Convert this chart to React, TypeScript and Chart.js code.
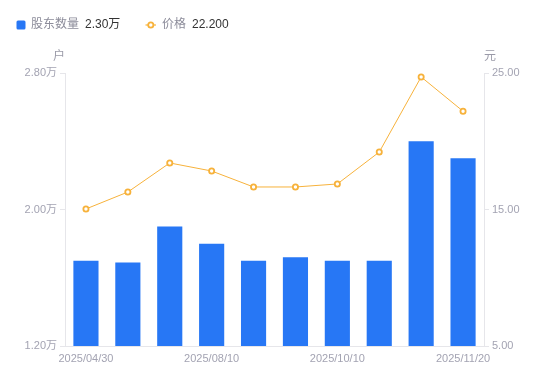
import React, { useEffect, useRef } from "react";
import { Chart, registerables } from "chart.js";

Chart.register(...registerables);

const categories = [
  "2025/04/30", "2025/06/30", "2025/07/31", "2025/08/10", "2025/08/31",
  "2025/09/30", "2025/10/10", "2025/10/31", "2025/11/10", "2025/11/20",
];
const shownLabels = ["2025/04/30", "2025/08/10", "2025/10/10", "2025/11/20"];
const holders = [1.70, 1.69, 1.90, 1.80, 1.70, 1.72, 1.70, 1.70, 2.40, 2.30];
const prices = [15.04, 16.28, 18.41, 17.82, 16.65, 16.65, 16.87, 19.21, 24.71, 22.2];
const legendValues = ["2.30万", "22.200"];
const seriesNames = ["股东数量", "价格"];
const axisUnits = ["户", "元"];

const BLUE = "#2777F5";
const ORANGE = "#F7B23B";
const TICK = "#A3A3B2";
const FONT = "'Liberation Sans', 'Noto Sans CJK SC', sans-serif";

const overlay = {
  id: "overlay",
  afterDraw(chart: any) {
    const ctx = chart.ctx;
    ctx.save();
    ctx.textBaseline = "middle";
    ctx.font = `12px ${FONT}`;
    const cy = 25;
    // legend item 1
    ctx.fillStyle = BLUE;
    ctx.beginPath();
    (ctx as any).roundRect ? (ctx as any).roundRect(16.5, cy - 4.5, 9, 9, 1.5) : ctx.rect(16.5, cy - 4.5, 9, 9);
    ctx.fill();
    ctx.fillStyle = "#8C8C9A";
    ctx.textAlign = "left";
    ctx.fillText(seriesNames[0], 31, cy);
    ctx.fillStyle = "#333333";
    ctx.fillText(legendValues[0], 85, cy);
    // legend item 2
    ctx.strokeStyle = ORANGE;
    ctx.lineWidth = 1.2;
    ctx.beginPath();
    ctx.moveTo(145.5, cy);
    ctx.lineTo(156, cy);
    ctx.stroke();
    ctx.fillStyle = "#fff";
    ctx.lineWidth = 1.8;
    ctx.beginPath();
    ctx.arc(150.8, cy, 2.6, 0, Math.PI * 2);
    ctx.fill();
    ctx.stroke();
    ctx.fillStyle = "#8C8C9A";
    ctx.fillText(seriesNames[1], 162, cy);
    ctx.fillStyle = "#333333";
    ctx.fillText(legendValues[1], 192, cy);
    // axis units
    ctx.fillStyle = "#9A9AA8";
    ctx.textAlign = "center";
    ctx.fillText(axisUnits[0], 59, 57);
    ctx.fillText(axisUnits[1], 490, 57);
    ctx.restore();
  },
};

export default function App() {
  const ref = useRef<HTMLCanvasElement>(null);
  useEffect(() => {
    document.body.style.margin = "0";
    const chart = new Chart(ref.current!, {
      data: {
        labels: categories,
        datasets: [
          {
            type: "line",
            label: seriesNames[1],
            data: prices,
            yAxisID: "y1",
            borderColor: ORANGE,
            borderWidth: 1,
            pointRadius: 2.6,
            pointBorderWidth: 1.8,
            pointBackgroundColor: "#fff",
            pointBorderColor: ORANGE,
            tension: 0,
            order: 0,
          } as any,
          {
            type: "bar",
            label: seriesNames[0],
            data: holders,
            yAxisID: "y",
            backgroundColor: BLUE,
            categoryPercentage: 0.6,
            barPercentage: 1,
            order: 1,
          } as any,
        ],
      },
      options: {
        animation: false,
        responsive: false,
        layout: { padding: { top: 73, left: 0, right: 0, bottom: 0 } },
        plugins: { legend: { display: false }, tooltip: { enabled: false } },
        scales: {
          x: {
            grid: { display: false, drawTicks: false },
            border: { color: "#E6E6EA" },
            afterFit: (s: any) => { s.height = 35; },
            ticks: {
              autoSkip: false,
              maxRotation: 0,
              color: TICK,
              padding: 6,
              font: { size: 11, family: FONT },
              callback: function (this: any, _v: any, i: number) {
                const l = categories[i];
                return shownLabels.includes(l) ? l : "";
              },
            },
          },
          y: {
            position: "left",
            min: 1.2,
            max: 2.8,
            afterFit: (s: any) => { s.width = 65; },
            grid: { drawOnChartArea: false, tickLength: 5, color: "#E6E6EA" },
            border: { color: "#E6E6EA" },
            ticks: {
              stepSize: 0.8,
              color: TICK,
              padding: 3,
              font: { size: 11, family: FONT },
              callback: (v: any) => Number(v).toFixed(2) + "万",
            },
          },
          y1: {
            position: "right",
            min: 5,
            max: 25,
            afterFit: (s: any) => { s.width = 66; },
            grid: { drawOnChartArea: false, tickLength: 5, color: "#E6E6EA" },
            border: { color: "#E6E6EA" },
            ticks: {
              stepSize: 10,
              color: TICK,
              padding: 3,
              font: { size: 11, family: FONT },
              callback: (v: any) => Number(v).toFixed(2),
            },
          },
        },
      },
      plugins: [overlay],
    });
    return () => chart.destroy();
  }, []);
  return (
    <div style={{ width: 550, height: 381 }}>
      <canvas ref={ref} width={550} height={381} style={{ display: "block" }} />
    </div>
  );
}
